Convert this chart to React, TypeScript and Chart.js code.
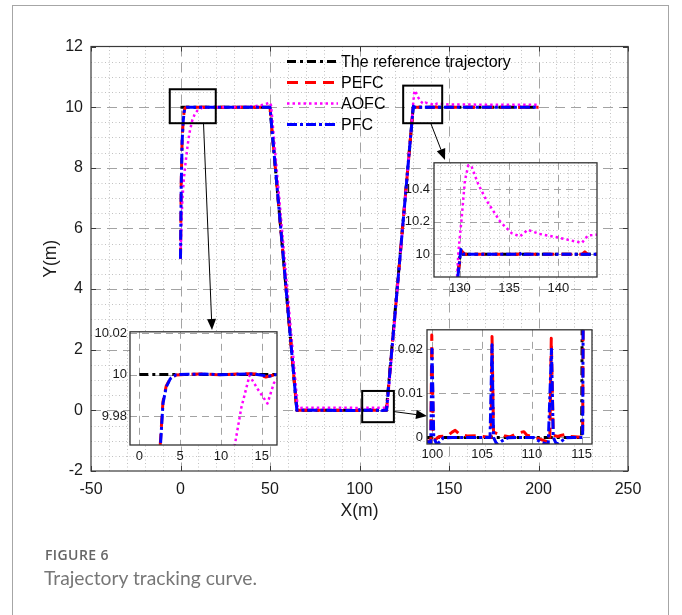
import React, { useEffect, useRef } from 'react';
import { Chart, registerables } from 'chart.js';

Chart.register(...registerables);

const FONT = '"Liberation Sans", Arial, Helvetica, sans-serif';

// ---------------- data ----------------
const seriesNames = ['The reference trajectory', 'PEFC', 'AOFC', 'PFC'];

const refPts: [number, number][] = [
  [0, 10], [50, 10], [65, 0], [115, 0], [130, 10], [200, 10],
];

const pefcPts: [number, number][] = [
  [0, 5], [0.4, 7.5], [0.9, 8.9], [1.5, 9.55], [2.0, 9.85], [2.5, 9.962], [2.9, 9.987], [3.3, 9.9945],
  [3.8, 9.998], [4.5, 9.9998], [6, 10.0001], [7.5, 10.0003], [9, 10.0], [10.5, 9.9999], [12, 10.0002],
  [13.5, 10.0004], [14.5, 10.0002], [15.5, 9.9988], [16, 9.9993], [16.8, 10.0001], [20, 10], [50, 10],
  [65, 0], [99.6, -0.0008], [99.85, -0.0012], [99.95, 0.0232], [100.1, 0.0015], [100.3, -0.0005],
  [100.7, 0.0002], [101.5, 0.0003], [102.0, 0.0012], [102.3, 0.0016], [102.7, 0.0008], [103.5, 0.0003],
  [104.5, 0.0004], [105.5, 0.0001], [105.9, 0], [106.0, 0.0229], [106.15, 0.0012], [106.6, 0.0008],
  [107.2, 0.0004], [107.8, 0.0001], [108.4, 0.0008], [108.8, 0.0011], [109.2, 0.0013], [109.5, 0.0005],
  [110.3, 0], [111.3, -0.0008], [111.8, -0.0012], [111.95, 0.0225], [112.15, 0.0005], [112.6, 0.0002],
  [113.0, 0.0005], [113.4, 0.0007], [113.8, 0.0002], [115.1, 0], [129.85, 9.9], [130.15, 10.022],
  [130.5, 10.0], [136.0, 10.0], [136.3, 10.02], [136.6, 10.0], [142.4, 10.0], [142.7, 10.015],
  [143.0, 10.0], [200, 10],
];

const aofcPts: [number, number][] = [
  [0, 5], [0.5, 6.1], [1, 6.9], [1.8, 7.6], [2.8, 8.15], [4, 8.75], [5, 9.15], [6.5, 9.55], [8, 9.78],
  [9.5, 9.89], [10.5, 9.93], [11.7, 9.966], [12.5, 9.984], [13.5, 9.9995], [14.5, 9.993], [15.7, 9.986],
  [16.5, 9.996], [17.5, 10.0], [30, 10.0], [40, 10.02], [45, 10.06], [48, 10.11], [50, 10.15],
  [50.6, 10.05], [65.5, 0.08], [80, 0.09], [100, 0.08], [115.5, 0.09], [129.7, 9.86], [129.85, 10.02],
  [130.17, 10.22], [130.5, 10.45], [130.85, 10.546], [131.2, 10.535], [131.86, 10.43], [132.7, 10.33],
  [134.1, 10.2], [135.25, 10.13], [136.1, 10.11], [136.9, 10.15], [138.1, 10.125], [140.2, 10.1],
  [142.4, 10.07], [143.0, 10.115], [143.9, 10.12], [150, 10.09], [170, 10.08], [200, 10.08],
];

const pfcPts: [number, number][] = [
  [0, 5], [0.4, 7.4], [0.9, 8.85], [1.5, 9.53], [2.0, 9.84], [2.5, 9.96], [2.9, 9.986], [3.3, 9.994],
  [3.8, 9.998], [4.5, 9.9999], [6, 10.0001], [8, 10.0002], [10, 9.9999], [12, 10.0001], [14, 10.0003],
  [15.3, 9.9995], [16, 9.9992], [16.8, 10.0], [50, 10], [65, 0], [99.6, -0.001], [99.85, -0.0014],
  [99.97, 0.02], [100.15, 0.0], [100.45, -0.0016], [100.8, -0.0009], [101.1, -0.0001], [102, 0],
  [105.8, 0], [106.0, 0.021], [106.15, 0.0], [106.48, -0.0016], [107.0, -0.0008], [107.6, -0.0001],
  [108.5, 0], [110.14, 0], [110.9, -0.0011], [111.64, -0.0016], [111.97, 0.02], [112.15, 0.0],
  [112.48, -0.0016], [113.0, -0.0008], [113.48, -0.0001], [114.2, 0], [115.1, 0], [129.85, 9.9],
  [130.1, 10.03], [130.4, 10.0], [136.1, 10.0], [136.3, 10.012], [136.5, 10.0], [200, 10],
];

const mainXTicks = [-50, 0, 50, 100, 150, 200, 250];
const mainYTicks = [-2, 0, 2, 4, 6, 8, 10, 12];
const inset1XTicks = [0, 5, 10, 15];
const inset1YTicks = [9.98, 10, 10.02];
const inset2XTicks = [130, 135, 140];
const inset2YTicks = [10, 10.2, 10.4];
const inset3XTicks = [100, 105, 110, 115];
const inset3YTicks = [0, 0.01, 0.02];

// ---------------- styles / layout ----------------
const STYLES = [
  { color: '#000000', dash: [9, 4, 3, 4], width: 3 },
  { color: '#ff0000', dash: [11, 7], width: 3 },
  { color: '#ff00ff', dash: [2.5, 3], width: 2.5 },
  { color: '#0000ff', dash: [10, 3, 3, 3], width: 3 },
];
const DRAW_ORDER = [3, 2, 1, 0];

const MAIN = { left: 91, top: 46.5, right: 628, bottom: 471 };

const zoomBoxes = [
  { x0: -6, x1: 19.7, y0: 9.47, y1: 10.59 },
  { x0: 124.4, x1: 146.2, y0: 9.47, y1: 10.71 },
  { x0: 101.5, x1: 119.2, y0: -0.39, y1: 0.64 },
];

const INSETS = [
  { L: 130, T: 331, R: 277, B: 445, xMin: -1.14, xMax: 16.87, yMin: 9.966, yMax: 10.0206,
    xTicks: inset1XTicks, yTicks: inset1YTicks, minorX: 0, minorY: 0, padX: 4, padY: 3 },
  { L: 434, T: 161, R: 597, B: 277, xMin: 127.36, xMax: 143.94, yMin: 9.861, yMax: 10.561,
    xTicks: inset2XTicks, yTicks: inset2YTicks, minorX: 1, minorY: 0.05, padX: 3.5, padY: 4 },
  { L: 427, T: 328, R: 592, B: 444, xMin: 99.47, xMax: 116.04, yMin: -0.0015, yMax: 0.0244,
    xTicks: inset3XTicks, yTicks: inset3YTicks, minorX: 0, minorY: 0, padX: 3, padY: 4 },
];

const arrows = [
  { fx: 12.85, fy: 9.47, tx: 212, ty: 330 },
  { fx: 139.8, fy: 9.47, tx: 445, ty: 160 },
  { fx: 119.2, fy: -0.04, tx: 427, ty: 416 },
];

const LEGEND = { x0: 287, x1: 338, tx: 341, top: 61.5, row: 21 };

const IN_YW = 44, IN_PT = 10, IN_PR = 8, IN_XH = 24;

// ---------------- helpers ----------------
function buildDatasets() {
  const all = [refPts, pefcPts, aofcPts, pfcPts];
  return all.map((pts, i) => ({
    label: seriesNames[i],
    data: pts.map(([x, y]) => ({ x, y })),
    showLine: true,
    pointRadius: 0,
    pointHoverRadius: 0,
    borderColor: STYLES[i].color,
    backgroundColor: STYLES[i].color,
    borderWidth: STYLES[i].width,
    borderDash: STYLES[i].dash,
    borderJoinStyle: 'round' as const,
    fill: false,
    tension: 0,
    order: DRAW_ORDER[i],
    clip: 0,
  }));
}

function axis(opts: any) {
  const { min, max, ticks, fontSize, padding, size, isX, title } = opts;
  return {
    type: 'linear' as const,
    position: isX ? 'bottom' : 'left',
    min,
    max,
    grid: { display: false, drawTicks: false },
    border: { display: false },
    afterBuildTicks: (s: any) => {
      s.ticks = ticks.map((v: number) => ({ value: v }));
    },
    afterFit: (s: any) => {
      if (isX) s.height = size;
      else s.width = size;
    },
    ticks: {
      padding,
      font: { family: FONT, size: fontSize },
      color: '#1a1a1a',
      maxRotation: 0,
      autoSkip: false,
      callback: (v: any) => String(v),
    },
    title: title
      ? { display: true, text: title, font: { family: FONT, size: 17.5 }, color: '#1a1a1a', padding: 0 }
      : { display: false },
  };
}

function drawGrid(chart: any, majorX: number[], majorY: number[], minorX: number, minorY: number, dash: number[]) {
  const { ctx, chartArea, scales } = chart;
  const { left, right, top, bottom } = chartArea;
  const xs = scales.x, ys = scales.y;
  ctx.save();
  ctx.lineWidth = 1;
  const vline = (px: number) => { ctx.beginPath(); ctx.moveTo(px, top); ctx.lineTo(px, bottom); ctx.stroke(); };
  const hline = (py: number) => { ctx.beginPath(); ctx.moveTo(left, py); ctx.lineTo(right, py); ctx.stroke(); };
  const isMajor = (arr: number[], v: number, step: number) => arr.some((m) => Math.abs(m - v) < step * 1e-3);
  ctx.strokeStyle = '#c2c2c2';
  ctx.setLineDash([1, 2.5]);
  if (minorX) {
    const start = Math.ceil(xs.min / minorX);
    for (let i = start; i * minorX <= xs.max + 1e-9; i++) {
      const v = i * minorX;
      if (isMajor(majorX, v, minorX)) continue;
      const px = Math.round(xs.getPixelForValue(v)) + 0.5;
      if (px <= left + 1 || px >= right - 1) continue;
      vline(px);
    }
  }
  if (minorY) {
    const start = Math.ceil(ys.min / minorY - 1e-6);
    for (let i = start; i * minorY <= ys.max + 1e-9; i++) {
      const v = i * minorY;
      if (isMajor(majorY, v, minorY)) continue;
      const py = Math.round(ys.getPixelForValue(v)) + 0.5;
      if (py <= top + 1 || py >= bottom - 1) continue;
      hline(py);
    }
  }
  ctx.strokeStyle = '#a3a3a3';
  ctx.setLineDash(dash);
  majorX.forEach((v) => {
    const px = Math.round(xs.getPixelForValue(v)) + 0.5;
    if (px <= left + 1 || px >= right - 1) return;
    vline(px);
  });
  majorY.forEach((v) => {
    const py = Math.round(ys.getPixelForValue(v)) + 0.5;
    if (py <= top + 1 || py >= bottom - 1) return;
    hline(py);
  });
  ctx.restore();
}

function drawBox(chart: any, color: string, width: number, tickLen: number, majorX: number[], majorY: number[]) {
  const { ctx, chartArea, scales } = chart;
  const { left, right, top, bottom } = chartArea;
  ctx.save();
  ctx.setLineDash([]);
  ctx.strokeStyle = color;
  ctx.lineWidth = width;
  ctx.strokeRect(left, top, right - left, bottom - top);
  if (tickLen > 0) {
    ctx.lineWidth = 1;
    majorX.forEach((v) => {
      const px = Math.round(scales.x.getPixelForValue(v)) + 0.5;
      ctx.beginPath();
      ctx.moveTo(px, bottom); ctx.lineTo(px, bottom - tickLen);
      ctx.moveTo(px, top); ctx.lineTo(px, top + tickLen);
      ctx.stroke();
    });
    majorY.forEach((v) => {
      const py = Math.round(scales.y.getPixelForValue(v)) + 0.5;
      ctx.beginPath();
      ctx.moveTo(left, py); ctx.lineTo(left + tickLen, py);
      ctx.moveTo(right, py); ctx.lineTo(right - tickLen, py);
      ctx.stroke();
    });
  }
  ctx.restore();
}

function drawArrow(ctx: CanvasRenderingContext2D, x0: number, y0: number, x1: number, y1: number) {
  const ang = Math.atan2(y1 - y0, x1 - x0);
  const len = 11, hw = 4.5;
  const bx = x1 - len * Math.cos(ang), by = y1 - len * Math.sin(ang);
  ctx.beginPath();
  ctx.moveTo(x0, y0);
  ctx.lineTo(bx, by);
  ctx.stroke();
  ctx.beginPath();
  ctx.moveTo(x1, y1);
  ctx.lineTo(bx + hw * Math.sin(ang), by - hw * Math.cos(ang));
  ctx.lineTo(bx - hw * Math.sin(ang), by + hw * Math.cos(ang));
  ctx.closePath();
  ctx.fill();
}

function makeMain(canvas: HTMLCanvasElement) {
  const plugin = {
    id: 'mainDecor',
    beforeDatasetsDraw(chart: any) {
      drawGrid(chart, mainXTicks, mainYTicks, 10, 0.5, [10, 6]);
    },
    afterDatasetsDraw(chart: any) {
      const { ctx, scales } = chart;
      drawBox(chart, '#3a3a3a', 1.2, 5, mainXTicks, mainYTicks);
      // legend
      ctx.save();
      ctx.font = `16px ${FONT}`;
      ctx.textBaseline = 'middle';
      ctx.textAlign = 'left';
      seriesNames.forEach((name, i) => {
        const y = LEGEND.top + i * LEGEND.row;
        const st = STYLES[i];
        ctx.strokeStyle = st.color;
        ctx.lineWidth = st.width;
        ctx.setLineDash(st.dash);
        ctx.beginPath();
        ctx.moveTo(LEGEND.x0, y);
        ctx.lineTo(LEGEND.x1, y);
        ctx.stroke();
        ctx.setLineDash([]);
        ctx.fillStyle = '#000';
        ctx.fillText(name, LEGEND.tx, y + 1);
      });
      // zoom boxes
      ctx.strokeStyle = '#000';
      ctx.lineWidth = 2;
      ctx.setLineDash([]);
      zoomBoxes.forEach((b) => {
        const x0 = scales.x.getPixelForValue(b.x0), x1 = scales.x.getPixelForValue(b.x1);
        const y0 = scales.y.getPixelForValue(b.y0), y1 = scales.y.getPixelForValue(b.y1);
        ctx.strokeRect(x0, y1, x1 - x0, y0 - y1);
      });
      // arrows
      ctx.lineWidth = 1;
      ctx.fillStyle = '#000';
      arrows.forEach((a) => {
        drawArrow(ctx, scales.x.getPixelForValue(a.fx), scales.y.getPixelForValue(a.fy), a.tx, a.ty);
      });
      ctx.restore();
    },
  };
  const xScaleH = 51;
  return new Chart(canvas, {
    type: 'scatter',
    data: { datasets: buildDatasets() as any },
    options: {
      responsive: false,
      animation: false,
      devicePixelRatio: 1,
      events: [],
      layout: { padding: { left: 41, top: MAIN.top, right: 682 - MAIN.right, bottom: 615 - MAIN.bottom - xScaleH } },
      plugins: { legend: { display: false }, tooltip: { enabled: false } },
      scales: {
        x: axis({ min: -50, max: 250, ticks: mainXTicks, fontSize: 16, padding: 9, size: xScaleH, isX: true, title: 'X(m)' }),
        y: axis({ min: -2, max: 12, ticks: mainYTicks, fontSize: 16, padding: 8, size: MAIN.left - 41, isX: false, title: 'Y(m)' }),
      } as any,
    },
    plugins: [plugin],
  });
}

function makeInset(canvas: HTMLCanvasElement, s: any) {
  const plugin = {
    id: 'insetDecor',
    beforeDraw(chart: any) {
      const { ctx, chartArea } = chart;
      ctx.save();
      ctx.fillStyle = '#ffffff';
      ctx.fillRect(chartArea.left, chartArea.top, chartArea.right - chartArea.left, chartArea.bottom - chartArea.top);
      ctx.restore();
    },
    beforeDatasetsDraw(chart: any) {
      drawGrid(chart, s.xTicks, s.yTicks, s.minorX, s.minorY, [7, 5]);
    },
    afterDatasetsDraw(chart: any) {
      drawBox(chart, '#333333', 1.3, 0, s.xTicks, s.yTicks);
    },
  };
  return new Chart(canvas, {
    type: 'scatter',
    data: { datasets: buildDatasets() as any },
    options: {
      responsive: false,
      animation: false,
      devicePixelRatio: 1,
      events: [],
      layout: { padding: { left: 0, top: IN_PT, right: IN_PR, bottom: 0 } },
      plugins: { legend: { display: false }, tooltip: { enabled: false } },
      scales: {
        x: axis({ min: s.xMin, max: s.xMax, ticks: s.xTicks, fontSize: 13, padding: s.padX, size: IN_XH, isX: true }),
        y: axis({ min: s.yMin, max: s.yMax, ticks: s.yTicks, fontSize: 13, padding: s.padY, size: IN_YW, isX: false }),
      } as any,
    },
    plugins: [plugin],
  });
}

export default function App() {
  const mainRef = useRef<HTMLCanvasElement>(null);
  const r0 = useRef<HTMLCanvasElement>(null);
  const r1 = useRef<HTMLCanvasElement>(null);
  const r2 = useRef<HTMLCanvasElement>(null);
  const insetRefs = [r0, r1, r2];

  useEffect(() => {
    const charts: Chart[] = [];
    if (mainRef.current) charts.push(makeMain(mainRef.current));
    insetRefs.forEach((r, i) => {
      if (r.current) charts.push(makeInset(r.current, INSETS[i]));
    });
    return () => charts.forEach((c) => c.destroy());
  }, []);

  return (
    <div style={{ position: 'absolute', left: 0, top: 0, width: 682, height: 615, overflow: 'hidden', background: '#fff' }}>
      <div
        style={{
          position: 'absolute', left: 12, top: 5, width: 657, height: 700,
          border: '1.5px solid #a6a6a6', boxSizing: 'border-box',
        }}
      />
      <canvas
        ref={mainRef}
        width={682}
        height={615}
        style={{ position: 'absolute', left: 0, top: 0, width: 682, height: 615 }}
      />
      {INSETS.map((s, i) => {
        const w = s.R - s.L + IN_YW + IN_PR;
        const h = s.B - s.T + IN_PT + IN_XH;
        return (
          <canvas
            key={i}
            ref={insetRefs[i]}
            width={w}
            height={h}
            style={{ position: 'absolute', left: s.L - IN_YW, top: s.T - IN_PT, width: w, height: h }}
          />
        );
      })}
      <div
        style={{
          position: 'absolute', left: 45, top: 546, fontFamily: '"Open Sans", sans-serif', fontWeight: 600,
          fontSize: 14, lineHeight: '17px', color: '#666', letterSpacing: 0.4, whiteSpace: 'nowrap',
        }}
      >
        FIGURE 6
      </div>
      <div
        style={{
          position: 'absolute', left: 44, top: 566, fontFamily: 'Lato, sans-serif', fontWeight: 400,
          fontSize: 19.3, lineHeight: '24px', color: '#777', whiteSpace: 'nowrap',
        }}
      >
        Trajectory tracking curve.
      </div>
    </div>
  );
}
